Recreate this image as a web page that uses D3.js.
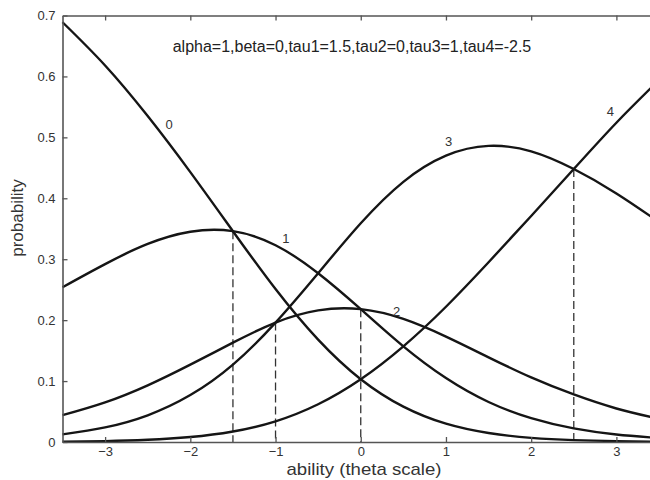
<!DOCTYPE html>
<html>
<head>
<meta charset="utf-8">
<script src="https://cdn.jsdelivr.net/npm/d3@7/dist/d3.min.js"></script>
<style>
  html, body { margin: 0; padding: 0; background: #fff; }
  svg { display: block; font-family: "Liberation Sans", Arial, sans-serif; }
</style>
</head>
<body>
<svg id="chart" width="650" height="480"></svg>
<script>
// ---- data ----
const theta = [-3.5, -3, -2.5, -2, -1.5, -1, -0.5, 0, 0.5, 1, 1.5, 2, 2.5, 3, 3.5];
const p0 = [0.689, 0.618, 0.535, 0.443, 0.346, 0.251, 0.168, 0.103, 0.058, 0.030, 0.0147, 0.0068, 0.0030, 0.0013, 0.0005];
const p1 = [0.254, 0.292, 0.325, 0.345, 0.346, 0.323, 0.277, 0.218, 0.157, 0.105, 0.0657, 0.0391, 0.0223, 0.0123, 0.0066];
const p2 = [0.044, 0.065, 0.093, 0.127, 0.163, 0.196, 0.216, 0.218, 0.202, 0.173, 0.139, 0.106, 0.078, 0.055, 0.038];
const p3 = [0.0126, 0.0240, 0.0439, 0.0770, 0.127, 0.196, 0.277, 0.359, 0.427, 0.470, 0.486, 0.477, 0.448, 0.408, 0.361];
const p4 = [0.0006, 0.0015, 0.0036, 0.0081, 0.0172, 0.034, 0.062, 0.103, 0.157, 0.222, 0.295, 0.371, 0.448, 0.524, 0.594];
const seriesNames = ["0", "1", "2", "3", "4"];
const series = [p0, p1, p2, p3, p4];
// curve label anchors (theta, probability)
const labelTheta = [-2.25, -0.88, 0.42, 1.03, 2.93];
const labelProb = [0.522, 0.334, 0.215, 0.494, 0.542];
// dashed crossing markers
const dashTheta = [-1.5, -1, 0, 2.5];
const dashProb = [0.346, 0.196, 0.218, 0.448];
const xTicks = [-3, -2, -1, 0, 1, 2, 3];
const yTicks = [0, 0.1, 0.2, 0.3, 0.4, 0.5, 0.6, 0.7];
const annotation = "alpha=1,beta=0,tau1=1.5,tau2=0,tau3=1,tau4=-2.5";
const xTitle = "ability (theta scale)";
const yTitle = "probability";

// ---- drawing ----
const svg = d3.select("#chart");
const x = d3.scaleLinear().domain([-3.5, 3.5]).range([62.5, 659]);
const y = d3.scaleLinear().domain([0, 0.7]).range([442, 15.5]);
const axisColor = "#555";
const textColor = "#333";

// dashed lines
svg.append("g").selectAll("line").data(dashTheta).join("line")
  .attr("x1", d => x(d)).attr("x2", d => x(d))
  .attr("y1", (d, i) => y(dashProb[i])).attr("y2", y(0))
  .attr("stroke", "#333").attr("stroke-width", 1.3)
  .attr("stroke-dasharray", "8,4");

// curves
const line = d3.line()
  .x((d, i) => x(theta[i]))
  .y(d => y(d))
  .curve(d3.curveNatural);
svg.append("g").selectAll("path").data(series).join("path")
  .attr("d", d => line(d))
  .attr("fill", "none")
  .attr("stroke", "#151515")
  .attr("stroke-width", 2.4);

// axes
const gx = svg.append("g").attr("transform", `translate(0,${y(0)})`)
  .call(d3.axisBottom(x).tickValues(xTicks).tickSizeInner(-5).tickSizeOuter(0).tickPadding(5)
    .tickFormat(d3.format("d")));
const gt = svg.append("g").attr("transform", `translate(0,${y(0.7)})`)
  .call(d3.axisTop(x).tickValues(xTicks).tickSizeInner(-5).tickSizeOuter(0).tickFormat(""));
const gy = svg.append("g").attr("transform", `translate(${x(-3.5)},0)`)
  .call(d3.axisLeft(y).tickValues(yTicks).tickSizeInner(-5).tickSizeOuter(0).tickPadding(7)
    .tickFormat(d => d === 0 ? "0" : d3.format(".1f")(d)));
[gx, gt, gy].forEach(g => {
  g.select(".domain").attr("stroke", axisColor).attr("stroke-width", 1.6);
  g.selectAll(".tick line").attr("stroke", axisColor).attr("stroke-width", 1.3);
  g.selectAll(".tick text").attr("fill", textColor)
    .style("font-family", "'Liberation Sans', Arial, sans-serif").style("font-size", "13px");
});

// curve labels
svg.append("g").selectAll("text").data(seriesNames).join("text")
  .attr("x", (d, i) => x(labelTheta[i]))
  .attr("y", (d, i) => y(labelProb[i]))
  .attr("text-anchor", "middle")
  .attr("dy", "0.35em")
  .attr("fill", textColor)
  .style("font-size", "13px")
  .text(d => d);

// annotation
svg.append("text")
  .attr("x", 352).attr("y", 52)
  .attr("text-anchor", "middle")
  .attr("fill", "#222")
  .style("font-size", "16px")
  .text(annotation);

// axis titles
svg.append("text")
  .attr("x", 364).attr("y", 475)
  .attr("text-anchor", "middle")
  .attr("fill", textColor)
  .attr("textLength", 155)
  .attr("lengthAdjust", "spacingAndGlyphs")
  .style("font-size", "17px")
  .text(xTitle);
svg.append("text")
  .attr("transform", "translate(23,218) rotate(-90)")
  .attr("text-anchor", "middle")
  .attr("fill", textColor)
  .style("font-size", "17px")
  .text(yTitle);
</script>
</body>
</html>
